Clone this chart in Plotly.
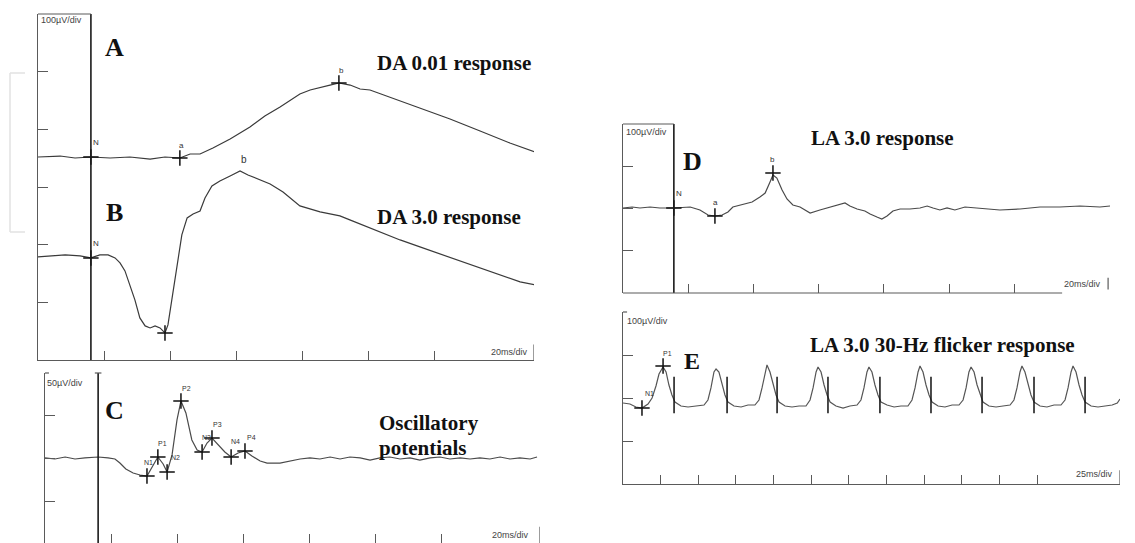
import plotly.graph_objects as go

W, H = 1135, 543

# ---------------- data (time in ms, amplitude in µV) ----------------
# Panel A: DA 0.01 response (relative to its own baseline)
a_time = [0, 6.7, 11.2, 16.0, 21.8, 27.8, 33.9, 38.4, 42.9, 46.0, 49.0, 52.9, 58.1, 64.1,
          68.6, 73.2, 79.2, 82.3, 88.3, 91.0, 94.4, 97.4, 100.4, 106.4, 115.5, 124.6,
          133.7, 142.7, 150.3]
a_amp = [0, 1.7, -1.7, 0, -1.7, 0, -3.5, 0, -1.7, 5.2, 5.2, 15.6, 31.2, 52.0,
         71.1, 86.7, 109.2, 116.2, 124.8, 128.3, 124.8, 117.9, 116.2, 104.0, 85.0, 65.9,
         45.1, 24.3, 8.7]
a_mark_labels = ["N", "a", "b"]
a_mark_time = [16.0, 42.9, 91.0]
a_mark_amp = [0, -1.7, 128.3]

# Panel B: DA 3.0 response
b_time = [0, 3.6, 8.2, 12.7, 16.0, 18.7, 21.2, 23.3, 24.8, 26.3, 27.8, 29.3, 30.8, 32.4,
          33.9, 35.4, 36.9, 38.4, 39.3, 40.5, 42.0, 43.5, 45.1, 46.9, 49.0, 50.5, 52.6,
          55.0, 58.1, 61.1, 63.5, 66.5, 70.2, 74.1, 79.2, 85.3, 91.3, 94.3, 98.9, 103.4,
          109.5, 115.5, 121.6, 127.6, 133.7, 139.7, 145.8, 150.3]
b_amp = [1.7, 3.5, 5.2, 3.5, 0, 5.2, 5.2, 0, -8.7, -22.5, -46.8, -72.8, -104.0, -117.9,
         -121.4, -117.9, -121.4, -130.1, -116.2, -72.8, -17.3, 39.9, 69.4, 76.3, 81.5, 104.0, 124.8,
         133.5, 142.2, 150.9, 143.9, 137.0, 128.3, 114.4, 90.2, 79.8, 72.8, 65.9, 55.5, 45.1,
         31.2, 19.1, 6.9, -5.2, -17.3, -29.5, -41.6, -46.8]
b_mark_labels = ["N", "a"]
b_mark_time = [16.0, 38.4]
b_mark_amp = [0, -130.1]
b_peak_label = ("b", 61.1, 150.9)

# Panel C: oscillatory potentials
c_time = [0, 3.0, 6.1, 9.1, 12.1, 16.1, 19.1, 21.2, 22.7, 24.5, 26.7, 28.8, 30.9, 32.4,
          34.2, 35.8, 37.0, 38.5, 40.0, 41.2, 42.7, 44.5, 46.1, 47.6, 49.1, 50.6, 52.4,
          54.5, 56.4, 58.5, 60.6, 62.7, 65.2, 67.3, 71.2, 74.2, 77.3, 80.3, 83.3, 86.4,
          89.4, 92.4, 95.5, 98.5, 101.5, 104.5, 107.6, 110.6, 113.6, 116.7, 119.7, 122.7,
          125.8, 128.8, 131.8, 134.8, 137.9, 140.9, 143.9, 147.0, 149.1]
c_amp = [1.2, 0, 2.3, 0, 1.2, 2.3, 1.2, 0, -4.7, -11.6, -16.3, -18.6, -19.8, -9.3,
         2.3, -5.8, -15.1, 4.7, 45.4, 67.5, 53.5, 22.1, 10.5, 8.1, 18.6, 24.4, 16.3,
         8.1, 2.3, 7.0, 9.3, 3.5, -2.3, -4.7, -4.7, -2.3, 0, 1.2, 0, 2.3,
         0, 2.3, 1.2, -1.2, 1.2, 2.3, 0, 1.2, -1.2, 1.2, 2.3, 0,
         1.2, 0, 1.2, 0, 2.3, 0, 1.2, 0, 2.3]
c_mark_labels = ["N1", "P1", "N2", "P2", "N3", "P3", "N4", "P4"]
c_mark_time = [30.9, 34.2, 37.0, 41.2, 47.6, 50.6, 56.4, 60.6]
c_mark_amp = [-19.8, 2.3, -15.1, 67.5, 8.1, 24.4, 2.3, 9.3]

# Panel D: LA 3.0 response
d_time = [0, 2.8, 5.2, 8.3, 11.3, 15.6, 20.6, 23.6, 26.1, 28.2, 30.4, 32.2, 33.7, 36.5,
          39.6, 42.0, 43.6, 45.1, 46.0, 47.2, 48.8, 50.3, 52.1, 54.3, 57.4, 60.4, 63.5,
          66.6, 68.1, 69.6, 71.8, 74.2, 75.8, 77.9, 79.4, 81.0, 82.8, 85.0, 88.0, 91.1,
          93.3, 95.1, 97.2, 99.4, 101.8, 104.9, 109.5, 112.6, 115.6, 121.8, 127.9, 134.0,
          140.2, 146.3, 149.4]
d_amp = [1.2, 3.5, 1.2, 3.5, 1.2, 1.2, 3.5, -3.5, -15.4, -17.7, -15.4, -8.3, 3.5, 8.3,
         15.4, 27.2, 36.6, 62.7, 79.2, 72.1, 43.7, 22.5, 8.3, 3.5, -10.6, -3.5, 3.5,
         10.6, 13.0, 5.9, -1.2, -5.9, -13.0, -20.1, -24.8, -17.7, -5.9, -1.2, -1.2, 1.2,
         5.9, 1.2, -3.5, 1.2, -3.5, 3.5, 1.2, -1.2, -3.5, -1.2, 3.5, 3.5,
         5.9, 3.5, 5.9]
d_mark_labels = ["N", "a", "b"]
d_mark_time = [15.6, 28.2, 46.0]
d_mark_amp = [1.2, -17.7, 84.0]

# Panel E: LA 3.0 30-Hz flicker response
e_time = [0, 4.6, 8.6, 12.6, 16.6, 19.3, 21.9, 23.9, 26.6, 28.6, 30.5, 32.5, 34.5, 38.5, 43.2, 47.8,
          53.8, 56.4, 58.4, 60.4, 61.8, 63.7, 65.7, 67.7, 69.7, 73.7, 78.4, 83.0,
          87.6, 90.3, 92.3, 94.3, 95.6, 97.6, 99.6, 101.6, 103.6, 107.6, 112.2, 116.9,
          121.5, 124.2, 126.2, 128.2, 129.5, 131.5, 133.5, 135.5, 137.5, 141.4, 146.1, 150.7,
          155.4, 158.0, 160.0, 162.0, 163.3, 165.3, 167.3, 169.3, 171.3, 175.3, 180.0, 184.6,
          189.2, 191.9, 193.9, 195.9, 197.2, 199.2, 201.2, 203.2, 205.2, 209.2, 213.8, 218.5,
          223.1, 225.8, 227.8, 229.7, 231.1, 233.1, 235.1, 237.1, 239.0, 243.0, 247.7, 252.3,
          257.0, 259.6, 261.6, 263.6, 264.9, 266.9, 268.9, 270.9, 272.9, 276.9, 281.5, 286.2,
          290.8, 293.5, 295.5, 297.5, 298.8, 300.8, 302.8, 304.8, 306.8, 310.8, 315.4, 320.1,
          324.8, 328.2, 330.0]
e_amp = [-11.6, -14.0, -20.9, -23.3, -14.0, 0, 27.9, 55.8, 72.1, 60.5, 30.2, 7.0, -9.3, -18.6, -20.9, -18.6,
         -16.3, -4.7, 23.3, 60.5, 67.5, 60.5, 30.2, 7.0, -9.3, -18.6, -20.9, -16.3,
         -16.3, -4.7, 23.3, 60.5, 76.8, 60.5, 30.2, 7.0, -9.3, -18.6, -20.9, -18.6,
         -18.6, -4.7, 23.3, 60.5, 72.1, 60.5, 30.2, 7.0, -9.3, -18.6, -23.3, -18.6,
         -16.3, -4.7, 23.3, 60.5, 72.1, 60.5, 30.2, 7.0, -9.3, -16.3, -20.9, -18.6,
         -18.6, -4.7, 23.3, 60.5, 74.4, 60.5, 30.2, 7.0, -9.3, -18.6, -20.9, -16.3,
         -16.3, -4.7, 23.3, 60.5, 72.1, 60.5, 30.2, 7.0, -9.3, -18.6, -20.9, -18.6,
         -16.3, -4.7, 23.3, 60.5, 74.4, 60.5, 30.2, 7.0, -9.3, -18.6, -20.9, -16.3,
         -16.3, -4.7, 23.3, 60.5, 74.4, 60.5, 30.2, 7.0, -9.3, -18.6, -20.9, -18.6,
         -16.3, -11.6, -2.3]
e_mark_labels = ["N1", "P1"]
e_mark_time = [12.6, 26.6]
e_mark_amp = [-23.3, 74.4]
e_stim_time = [33.9, 69.1, 102.3, 136.1, 170.6, 204.5, 238.4, 272.9, 306.8]
e_stim_amp = [7.0] * len(e_stim_time)

# panel layout constants (display offsets of the stacked traces in panel AB)
A_OFFSET = 352.0
B_OFFSET = 177.0
TRIG_AB, TRIG_C, TRIG_D = 16.0, 16.1, 15.6

# ---------------- figure ----------------
def px_x(x):
    return x / W

def px_y(y):
    return 1 - y / H

TRACE = "#3a3a3a"
AXC = "#5a5a5a"
MARK = "#111111"

fig = go.Figure()

def add_trace(t, v, xa, ya, color=TRACE, width=1.2):
    fig.add_trace(go.Scatter(x=t, y=v, xaxis=xa, yaxis=ya, mode="lines",
                             line=dict(color=color, width=width), hoverinfo="skip",
                             showlegend=False))

def add_marks(t, v, xa, ya):
    fig.add_trace(go.Scatter(x=t, y=v, xaxis=xa, yaxis=ya, mode="markers",
                             marker=dict(symbol="cross-thin-open", size=11, color=MARK,
                                         line=dict(color=MARK, width=1.5)),
                             cliponaxis=False, hoverinfo="skip", showlegend=False))

add_trace(a_time, [v + A_OFFSET for v in a_amp], "x", "y")
add_marks(a_mark_time, [v + A_OFFSET for v in a_mark_amp], "x", "y")
add_trace(b_time, [v + B_OFFSET for v in b_amp], "x", "y")
add_marks(b_mark_time, [v + B_OFFSET for v in b_mark_amp], "x", "y")
add_trace(c_time, c_amp, "x2", "y2", color="#4a4a4a")
add_marks(c_mark_time, c_mark_amp, "x2", "y2")
add_trace(d_time, d_amp, "x3", "y3", color="#4a4a4a")
add_marks(d_mark_time, d_mark_amp, "x3", "y3")
add_trace(e_time, e_amp, "x4", "y4", color="#555555")
add_marks(e_mark_time, e_mark_amp, "x4", "y4")
fig.add_trace(go.Scatter(x=e_stim_time, y=e_stim_amp, xaxis="x4", yaxis="y4", mode="markers",
                         marker=dict(symbol="line-ns-open", size=26, color=MARK,
                                     line=dict(color=MARK, width=1.5)),
                         hoverinfo="skip", showlegend=False))

def xax(dom, rng, ticks, showline=True):
    return dict(domain=dom, range=rng, showgrid=False, zeroline=False, showticklabels=False,
                ticks="inside", ticklen=9, tickwidth=1, tickcolor=AXC, tickvals=ticks,
                showline=showline, linecolor=AXC, linewidth=1.2, fixedrange=True)

def yax(dom, rng, ticks):
    return dict(domain=dom, range=rng, showgrid=False, zeroline=False, showticklabels=False,
                ticks="inside", ticklen=10, tickwidth=1, tickcolor=AXC, tickvals=ticks,
                showline=True, linecolor=AXC, linewidth=1.2, fixedrange=True)

fig.update_layout(
    width=W, height=H, autosize=False,
    margin=dict(l=0, r=0, t=0, b=0),
    paper_bgcolor="white", plot_bgcolor="rgba(0,0,0,0)",
    xaxis=dict(**xax([px_x(38), px_x(534)], [0, 150], [20, 40, 60, 80, 100, 120]), anchor="y"),
    yaxis=dict(**yax([px_y(360), px_y(14)], [0, 600], [100, 200, 300, 400, 500]), anchor="x"),
    xaxis2=dict(**xax([px_x(45), px_x(540)], [0, 150], [20, 40, 60, 80, 100, 120], showline=False), anchor="y2"),
    yaxis2=dict(**yax([0, px_y(373)], [-97.7, 100], [-50, 0, 50]), anchor="x2"),
    xaxis3=dict(**xax([px_x(623), px_x(1112)], [0, 150], [20, 40, 60, 80, 100, 120], showline=False), anchor="y3"),
    yaxis3=dict(**yax([px_y(293), px_y(124)], [-200, 200], [-100, 0, 100]), anchor="x3"),
    xaxis4=dict(**xax([px_x(623), px_x(1120)], [0, 330], [25 * k for k in range(1, 12)]), anchor="y4"),
    yaxis4=dict(**yax([px_y(484), px_y(312)], [-200, 200], [-100, 0, 100]), anchor="x4"),
)

shapes = []
def seg(x0, y0, x1, y1, xref, yref, color=AXC, width=1.2):
    shapes.append(dict(type="line", x0=x0, y0=y0, x1=x1, y1=y1, xref=xref, yref=yref,
                       line=dict(color=color, width=width)))

# trigger lines and box tops
seg(TRIG_AB, 0, TRIG_AB, 1, "x", "y domain", color="#1a1a1a", width=1.6)
seg(0, 1, TRIG_AB, 1, "x", "y domain")
seg(150, 0, 150, 0.045, "x", "y domain")
seg(TRIG_C, 0, TRIG_C, 1, "x2", "y2 domain", color="#1a1a1a", width=1.6)
seg(TRIG_C - 1.0, 1, TRIG_C + 1.0, 1, "x2", "y2 domain")
seg(0, 1, 1.2, 1, "x2", "y2 domain")
seg(150, 0, 150, 0.095, "x2", "y2 domain")
seg(TRIG_D, 0, TRIG_D, 1, "x3", "y3 domain", color="#1a1a1a", width=1.6)
seg(0, 1, TRIG_D, 1, "x3", "y3 domain")
seg(0, 0, 134.7, 0, "x3", "y3 domain")
seg(148.8, 0.02, 148.8, 0.09, "x3", "y3 domain")
seg(0, 1, 2.7, 1, "x4", "y4 domain")
seg(330, 0, 330, 0.08, "x4", "y4 domain")
# faint bracket at the far left (scan artefact)
seg(px_x(10), px_y(73), px_x(10), px_y(232), "paper", "paper", color="#e2e2e2", width=1.5)
seg(px_x(10), px_y(73), px_x(25), px_y(73), "paper", "paper", color="#e2e2e2", width=1.5)
seg(px_x(10), px_y(232), px_x(25), px_y(232), "paper", "paper", color="#e2e2e2", width=1.5)
fig.update_layout(shapes=shapes)

ann = []
SERIF = "Liberation Serif"
SANS = "Liberation Sans"

def big(text, x, y, size=21, anchor="left"):
    ann.append(dict(text=f"<b>{text}</b>", x=px_x(x), y=px_y(y), xref="paper", yref="paper",
                    xanchor=anchor, yanchor="middle", showarrow=False,
                    font=dict(family=SERIF, size=size, color="#111")))

def small(text, x, y, size=9):
    ann.append(dict(text=text, x=px_x(x), y=px_y(y), xref="paper", yref="paper",
                    xanchor="left", yanchor="middle", showarrow=False,
                    font=dict(family=SANS, size=size, color="#444")))

def tag(text, t, v, xa, ya, dx, dy, size=8):
    ann.append(dict(text=text, x=t, y=v, xref=xa, yref=ya, xshift=dx, yshift=dy,
                    xanchor="center", yanchor="middle", showarrow=False,
                    font=dict(family=SANS, size=size, color="#333")))

big("A", 114.5, 47, 26, "center")
big("B", 114, 212, 26, "center")
big("C", 114, 410, 26, "center")
big("D", 692, 161, 26, "center")
big("E", 692, 361, 24, "center")
big("DA 0.01 response", 375, 63)
big("DA 3.0 response", 375, 217)
big("Oscillatory", 377, 423)
big("potentials", 377, 448)
big("LA 3.0 response", 809, 138)
big("LA 3.0 30-Hz flicker response", 808, 345)

small("100µV/div", 39, 20)
small("20ms/div", 489, 352)
small("50µV/div", 45, 383)
small("20ms/div", 490, 535)
small("100µV/div", 624, 132)
small("20ms/div", 1062, 284)
small("100µV/div", 625, 321)
small("25ms/div", 1074, 474)

a_off = [(5, 15), (2, 12), (3, 13)]
for lab, t, v, (dx, dy) in zip(a_mark_labels, a_mark_time, a_mark_amp, a_off):
    tag(lab, t, v + A_OFFSET, "x", "y", dx, dy)
b_off = [(5, 14), (4, 13)]
for lab, t, v, (dx, dy) in zip(b_mark_labels[:1], b_mark_time[:1], b_mark_amp[:1], b_off):
    tag(lab, t, v + B_OFFSET, "x", "y", dx, dy)
tag(b_peak_label[0], b_peak_label[1], b_peak_label[2] + B_OFFSET, "x", "y", 4, 11, size=10)
c_off = [(2, 14), (5, 14), (8, 14), (6, 12), (4, 15), (6, 14), (4, 16), (7, 13)]
for lab, t, v, (dx, dy) in zip(c_mark_labels, c_mark_time, c_mark_amp, c_off):
    tag(lab, t, v, "x2", "y2", dx, dy, size=7)
d_off = [(5, 14), (1, 13), (0, 14)]
for lab, t, v, (dx, dy) in zip(d_mark_labels, d_mark_time, d_mark_amp, d_off):
    tag(lab, t, v, "x3", "y3", dx, dy)
e_off = [(8, 15), (4, 13)]
for lab, t, v, (dx, dy) in zip(e_mark_labels, e_mark_time, e_mark_amp, e_off):
    tag(lab, t, v, "x4", "y4", dx, dy, size=7)

fig.update_layout(annotations=ann)
fig.write_html("out.html")
